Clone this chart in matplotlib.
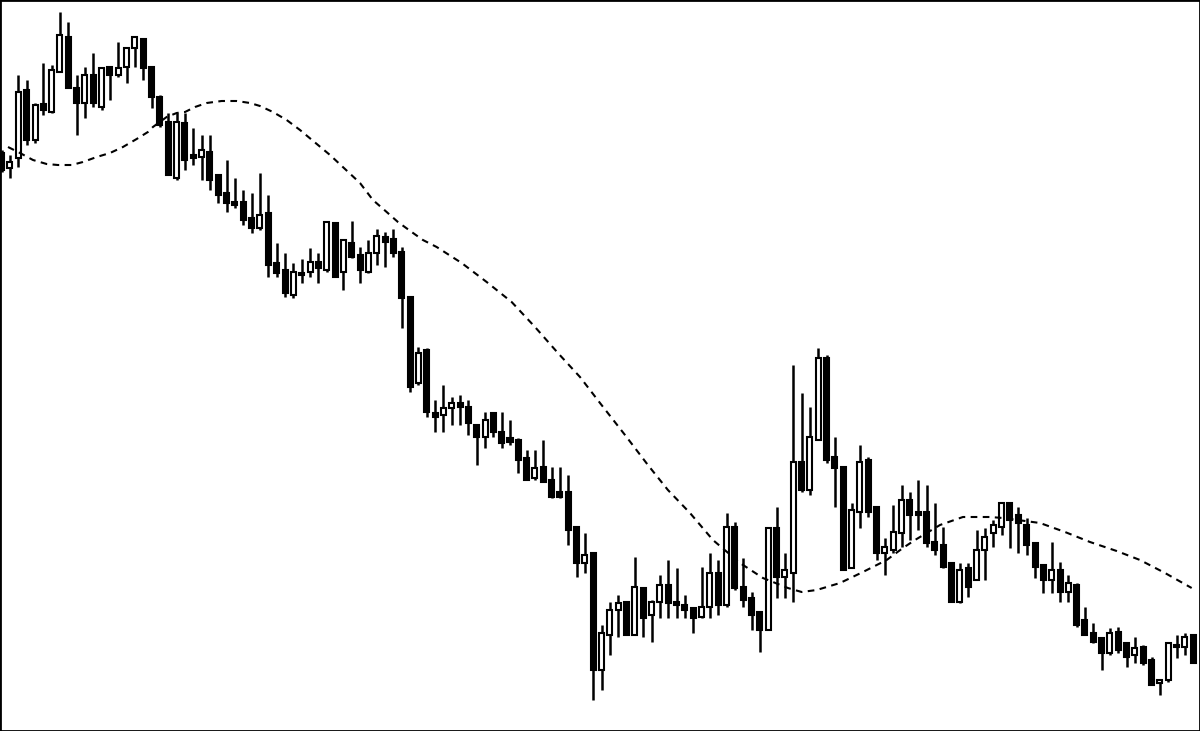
import matplotlib
matplotlib.use("Agg")
import matplotlib.pyplot as plt
import numpy as np

# Candle data (price units; higher = up), 144 candles
high = [581, 576, 656, 651, 628, 668, 666, 719, 709, 656, 664, 678,
        664, 664, 689, 684, 694, 692, 664, 636, 618, 618, 618, 603,
        596, 596, 556, 571, 553, 541, 538, 558, 536, 488, 478, 468,
        472, 483, 478, 510, 508, 491, 510, 484, 491, 502, 499, 502,
        484, 434, 384, 383, 331, 346, 334, 336, 331, 306, 319, 319,
        319, 311, 293, 281, 281, 291, 264, 264, 256, 204, 198, 179,
        106, 129, 136, 129, 174, 144, 131, 156, 171, 163, 136, 124,
        164, 178, 171, 218, 209, 173, 139, 119, 204, 224, 178, 366,
        338, 324, 383, 376, 294, 264, 228, 286, 274, 224, 193, 226,
        246, 239, 251, 246, 228, 204, 169, 168, 168, 201, 203, 211,
        229, 228, 224, 213, 188, 166, 189, 169, 156, 148, 124, 108,
        93, 103, 104, 89, 94, 86, 74, 51, 89, 96, 98, 96]
low = [559, 553, 564, 586, 588, 616, 618, 659, 643, 596, 613, 624,
       621, 631, 654, 648, 664, 651, 623, 604, 556, 551, 561, 566,
       551, 541, 528, 519, 523, 506, 498, 501, 454, 454, 434, 433,
       448, 454, 448, 459, 454, 441, 473, 448, 458, 466, 464, 474,
       403, 339, 346, 314, 299, 299, 306, 306, 296, 266, 283, 294,
       283, 286, 258, 251, 251, 249, 233, 233, 186, 154, 158, 31,
       41, 76, 94, 96, 96, 94, 89, 113, 113, 113, 113, 98,
       113, 113, 116, 124, 141, 124, 101, 79, 101, 133, 133, 129,
       239, 236, 291, 268, 224, 161, 163, 203, 214, 171, 156, 178,
       184, 191, 201, 184, 176, 163, 129, 128, 134, 151, 151, 184,
       196, 183, 178, 176, 153, 138, 138, 129, 129, 104, 96, 88,
       61, 76, 78, 64, 68, 66, 46, 36, 49, 73, 76, 68]
opn = [578, 563, 573, 641, 591, 627, 619, 659, 694, 643, 628, 656,
       624, 664, 656, 664, 683, 692, 664, 634, 609, 553, 608, 576,
       574, 579, 556, 538, 529, 529, 513, 503, 518, 468, 461, 436,
       458, 459, 469, 461, 508, 459, 488, 476, 459, 478, 494, 492,
       479, 434, 348, 381, 318, 316, 323, 328, 324, 306, 294, 318,
       299, 293, 291, 273, 253, 264, 251, 239, 239, 204, 168, 178,
       61, 96, 121, 129, 96, 143, 116, 129, 146, 129, 126, 123,
       114, 124, 158, 126, 204, 144, 133, 119, 101, 203, 154, 158,
       269, 241, 291, 373, 274, 264, 163, 219, 271, 224, 178, 181,
       198, 231, 219, 219, 189, 186, 168, 129, 163, 151, 181, 198,
       204, 228, 216, 206, 188, 166, 151, 161, 139, 146, 111, 98,
       93, 78, 99, 88, 76, 84, 71, 48, 51, 86, 84, 96]
cls = [561, 569, 639, 591, 626, 621, 661, 696, 643, 628, 656, 628,
       663, 656, 663, 683, 694, 663, 634, 606, 556, 609, 571, 573,
       581, 551, 536, 528, 526, 511, 503, 516, 466, 458, 438, 459,
       456, 469, 463, 509, 454, 491, 474, 461, 478, 495, 489, 478,
       433, 344, 378, 319, 314, 323, 328, 324, 308, 294, 311, 299,
       288, 289, 271, 251, 263, 249, 234, 234, 201, 168, 176, 61,
       98, 121, 128, 96, 144, 113, 129, 146, 128, 126, 121, 113,
       124, 158, 126, 204, 143, 131, 116, 101, 203, 154, 161, 269,
       241, 294, 373, 271, 263, 161, 221, 269, 219, 178, 184, 199,
       231, 216, 216, 188, 181, 164, 129, 161, 144, 181, 194, 206,
       228, 211, 208, 186, 164, 151, 161, 139, 148, 106, 96, 89,
       78, 98, 81, 74, 83, 68, 46, 51, 88, 84, 94, 68]

# Moving average line: (candle index, price) pairs
ma_idx = [0.76, 2.2, 3.76, 5.4, 6.75, 8.4, 9.75, 11.4, 13.0, 14.55,
          16.2, 17.55, 18.15, 19.8, 21.0, 22.0, 23.2, 24.6, 26.4, 28.2,
          29.8, 31.0, 32.55, 34.2, 35.8, 39.4, 43.0, 44.55, 46.2, 47.55,
          49.2, 50.55, 52.2, 55.2, 58.2, 61.2, 64.0, 66.75, 69.4, 71.8,
          74.8, 77.55, 79.95, 82.6, 85.35, 88.6, 91.35, 94.35, 96.0, 97.8,
          100.6, 103.35, 106.2, 108.15, 109.6, 112.6, 115.35, 118.6, 120.15, 124.6,
          127.6, 130.6, 133.8, 136.6, 139.6, 142.8]
ma_val = [584, 578, 571, 567, 566, 566, 569, 574, 578, 584,
          592, 599, 604, 614, 618, 619, 624, 628, 630, 630,
          628, 625, 619, 611, 601, 576, 548, 531, 519, 509,
          499, 491, 484, 468, 449, 429, 404, 378, 354, 328,
          296, 266, 241, 218, 191, 168, 153, 143, 139, 141,
          148, 159, 171, 183, 191, 206, 214, 214, 213, 208,
          199, 189, 180, 171, 158, 143]

n = len(high)
x = np.arange(n)
opn_a = np.array(opn, dtype=float)
cls_a = np.array(cls, dtype=float)
up = cls_a >= opn_a

fig = plt.figure(figsize=(12, 7.31), dpi=100)
ax = fig.add_axes([0, 0, 1, 1])

ax.vlines(x, low, high, color="black", linewidth=1.8, zorder=2)
bottoms = np.minimum(opn_a, cls_a)
heights = np.maximum(np.abs(cls_a - opn_a), 2.0)
faces = ["white" if u else "black" for u in up]
ax.bar(x, heights, bottom=bottoms, width=0.6, color=faces, edgecolor="black",
       linewidth=1.5, zorder=3)

ax.plot(ma_idx, ma_val, color="black", linewidth=1.5, linestyle=(0, (3.2, 2.6)), zorder=4)

ax.set_xlim(-0.2, 143.8)
ax.set_ylim(0, 731)
ax.set_xticks([])
ax.set_yticks([])
for s in ax.spines.values():
    s.set_linewidth(2)
    s.set_color("black")

fig.savefig("out.png", dpi=100, facecolor="white")
